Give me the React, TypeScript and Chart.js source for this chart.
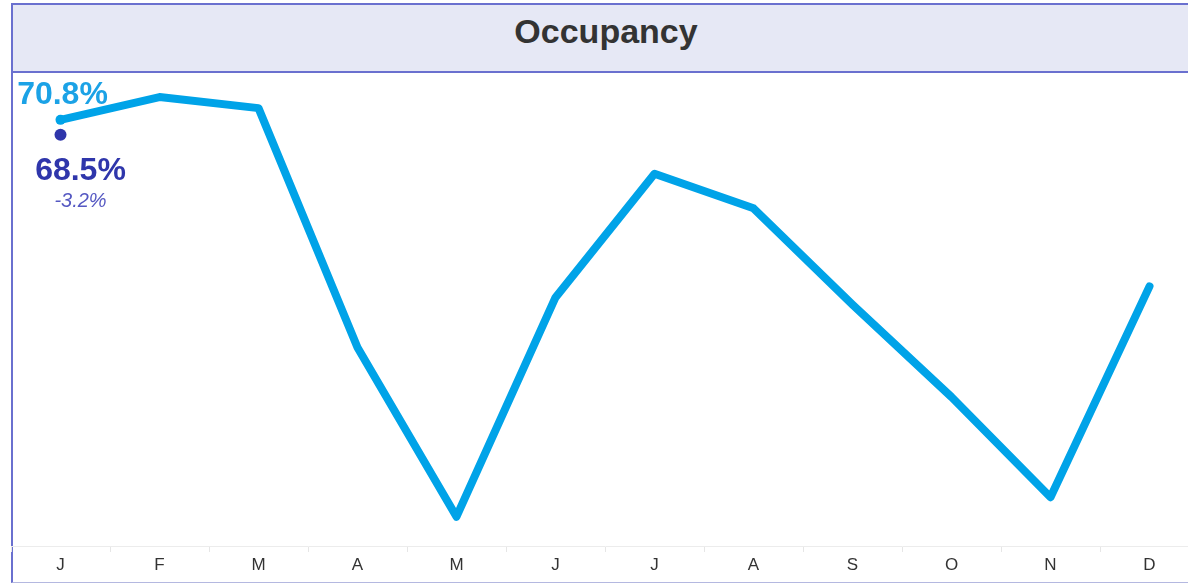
import React, { useEffect, useRef } from "react";
import { Chart, registerables } from "chart.js";

Chart.register(...registerables);

const months = ["J", "F", "M", "A", "M", "J", "J", "A", "S", "O", "N", "D"];
const occupancy = [70.8, 74.3, 72.6, 35.8, 9.8, 43.5, 62.5, 57.2, 42.4, 28.2, 12.8, 45.2];
const priorYear = [68.5, null, null, null, null, null, null, null, null, null, null, null];
const titleText = "Occupancy";

const FONT = "'Liberation Sans', Arial, Helvetica, sans-serif";
const LINE_COLOR = "#00a3e8";
const PRIOR_COLOR = "#2f36ab";

const labelPlugin = {
  id: "firstPointLabels",
  afterDatasetsDraw(chart: any) {
    const ctx = chart.ctx;
    const cur = chart.getDatasetMeta(0).data[0];
    const prev = chart.getDatasetMeta(1).data[0];
    if (!cur || !prev) return;
    const curVal = occupancy[0];
    const prevVal = priorYear[0] as number;
    const change = ((prevVal - curVal) / curVal) * 100;
    ctx.save();
    ctx.textAlign = "center";
    ctx.textBaseline = "alphabetic";
    ctx.fillStyle = "#1ba2e6";
    ctx.font = `bold 32px ${FONT}`;
    ctx.fillText(curVal.toFixed(1) + "%", cur.x + 2, cur.y - 16);
    ctx.fillStyle = PRIOR_COLOR;
    ctx.font = `bold 32px ${FONT}`;
    ctx.fillText(prevVal.toFixed(1) + "%", prev.x + 20, prev.y + 45);
    ctx.fillStyle = "#5558c2";
    ctx.font = `italic 20px ${FONT}`;
    const sign = change > 0 ? "+" : "";
    ctx.fillText(sign + change.toFixed(1) + "%", prev.x + 20, prev.y + 72);
    ctx.restore();
  },
};

export default function App() {
  const ref = useRef<HTMLCanvasElement | null>(null);

  useEffect(() => {
    document.body.style.margin = "0";
    document.body.style.overflow = "hidden";
    if (!ref.current) return;
    const chart = new Chart(ref.current, {
      type: "line",
      data: {
        labels: months,
        datasets: [
          {
            data: occupancy,
            borderColor: LINE_COLOR,
            backgroundColor: LINE_COLOR,
            borderWidth: 8,
            borderJoinStyle: "round",
            borderCapStyle: "round",
            pointRadius: occupancy.map((_, i) => (i === 0 ? 5 : 0)),
            pointBackgroundColor: LINE_COLOR,
            pointBorderWidth: 0,
            tension: 0,
          },
          {
            data: priorYear,
            showLine: false,
            pointRadius: 6,
            pointBackgroundColor: PRIOR_COLOR,
            pointBorderWidth: 0,
            borderColor: PRIOR_COLOR,
          },
        ],
      },
      options: {
        animation: false,
        responsive: true,
        maintainAspectRatio: false,
        layout: { padding: 0, autoPadding: false },
        plugins: {
          legend: { display: false },
          tooltip: { enabled: false },
          title: { display: false },
        },
        scales: {
          x: {
            offset: true,
            grid: {
              offset: true,
              drawOnChartArea: false,
              drawTicks: true,
              tickLength: 6,
              color: "#e6e6e6",
            },
            border: { display: true, color: "#ececec", width: 1 },
            ticks: {
              color: "#333333",
              font: { family: FONT, size: 17 },
              padding: 3,
              maxRotation: 0,
              autoSkip: false,
            },
            afterFit: (s: any) => {
              s.height = 34;
            },
          },
          y: {
            display: false,
            min: 5.3,
            max: 78.0,
          },
        },
      },
      plugins: [labelPlugin],
    });
    return () => chart.destroy();
  }, []);

  return (
    <div
      style={{
        position: "absolute",
        left: 11,
        top: 3,
        width: 1188,
        height: 580,
        borderLeft: "2px solid #6a70cf",
        borderTop: "2px solid #6a70cf",
        borderBottom: "1px solid #b4b8e0",
        boxSizing: "border-box",
        background: "#ffffff",
      }}
    >
      <div
        style={{
          height: 68,
          background: "#e6e8f5",
          borderBottom: "2px solid #6a70cf",
          display: "flex",
          alignItems: "center",
          justifyContent: "center",
          paddingBottom: 13,
          boxSizing: "border-box",
          fontFamily: FONT,
          fontWeight: "bold",
          fontSize: 34,
          color: "#333333",
        }}
      >
        {titleText}
      </div>
      <div style={{ position: "relative", height: 507, marginLeft: -2 }}>
        <canvas ref={ref} />
      </div>
    </div>
  );
}
